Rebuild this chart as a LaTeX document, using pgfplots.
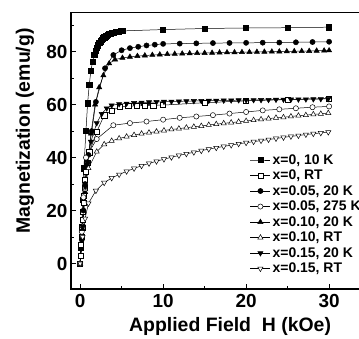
\documentclass[border=0pt]{standalone}
\usepackage{pgfplots}
\pgfplotsset{compat=1.18}
\usepackage{fontspec}
\setmainfont{Liberation Sans}
\begin{document}
\begin{tikzpicture}[x=1bp,y=1bp]
\useasboundingbox (0,0) rectangle (359,339);
\clip (0,0) rectangle (359,339);
\begin{axis}[
  at={(71bp,50bp)}, anchor=south west,
  scale only axis, width=316.2bp, height=276.4bp,
  xmin=-1.1, xmax=37, ymin=-9.6, ymax=94.7,
  axis line style={line width=1.5pt},
  tick align=inside, tick pos=left,
  major tick length=5bp, minor tick length=3bp,
  every tick/.style={black, line width=1pt},
  xtick={0,10,20,30}, minor xtick={5,15,25},
  ytick={0,20,40,60,80}, minor ytick={10,30,50,70,90},
  /pgf/number format/assume math mode=true,
  ticklabel style={font=\bfseries\fontsize{19}{21}\selectfont},
  xticklabel style={yshift=-2bp},
  label style={font=\bfseries\fontsize{19.5}{22}\selectfont},
  xlabel={Applied Field\ \ H (kOe)},
  ylabel={Magnetization (emu/g)},
  xlabel style={at={(axis description cs:0.503,-0.134)}, anchor=center},
  ylabel style={at={(axis description cs:-0.1455,0.572)}, anchor=center},
  legend style={draw=none, fill=none, at={(axis description cs:0.566,0.495)}, anchor=north west,
    font=\bfseries\fontsize{14}{15}\selectfont, row sep=0.3bp, inner sep=0pt,
    /tikz/every even column/.append style={column sep=2bp}},
  legend cell align=left,
  legend image code/.code={\draw[mark repeat=2,mark phase=2] plot coordinates {(0bp,0bp) (10bp,0bp) (20bp,0bp)};},
  every axis plot/.append style={black, line width=0.5pt},
]
\addplot[mark=square*, mark size=2.6, mark options={solid, fill=black}] coordinates {
(0,0) (0.1,6) (0.2,14) (0.3,24) (0.45,36) (0.7,50) (0.9,60.5) (1.1,67.5) (1.3,72.8) (1.5,76.2) (1.7,78.8) (1.85,80.3) (2.0,81.5) (2.15,82.4) (2.3,83.2) (2.45,83.9) (2.6,84.5) (2.75,85) (2.9,85.4) (3.05,85.8) (3.2,86.1) (3.35,86.4) (3.5,86.6) (3.65,86.8) (3.8,87.0) (3.95,87.1) (4.1,87.25) (4.25,87.35) (4.4,87.45) (4.55,87.55) (4.7,87.6) (4.85,87.7) (5.0,87.75) (5.15,87.8) (10,88.3) (15,88.7) (20,88.9) (25,89.0) (30,89.2)};
\addlegendentry{x=0, 10 K}
\addplot[mark=square*, mark size=2.6, mark options={solid, fill=white}] coordinates {
(0,0) (0.05,3) (0.12,7) (0.2,10) (0.25,13.4) (0.3,16.4) (0.35,19.5) (0.42,22.8) (0.48,25.5) (0.52,28.5) (0.6,31.5) (0.7,34.6) (0.85,38) (1.1,42) (2.0,49.7) (2.9,56) (3.8,57.7) (4.8,59.2) (5.8,59.4) (6.8,59.5) (7.8,59.6) (8.8,59.7) (10.0,59.8) (15,60.7) (20,61.4) (25,61.9) (30,62.3)};
\addlegendentry{x=0, RT}
\addplot[mark=*, mark size=2.6, mark options={solid, fill=black}] coordinates {
(0,0) (0.2,9) (0.4,20) (0.6,30) (0.8,37) (1.0,41) (1.4,50) (1.9,61) (3.0,73.7) (4.0,78.7) (5.0,80.5) (6.0,81.3) (7.0,81.8) (8.0,82.3) (9,82.6) (10,82.9) (12,83.0) (14,83.1) (16,83.2) (18,83.25) (20,83.3) (22,83.35) (24,83.4) (26,83.5) (28,83.6) (30,83.7)};
\addlegendentry{x=0.05, 20 K}
\addplot[mark=*, mark size=2.6, mark options={solid, fill=white}] coordinates {
(0,0) (0.2,12) (0.4,25) (0.7,40) (2.0,47) (4.0,52.2) (6.0,53) (8.0,53.6) (10,54.3) (12,55) (14,55.5) (16,56) (18,56.6) (20,57.2) (22,57.8) (24,58.2) (26,58.6) (28,59) (30,59.3)};
\addlegendentry{x=0.05, 275 K}
\addplot[mark=triangle*, mark size=3, mark options={solid, fill=black}] coordinates {
(0,0) (0.3,13) (0.6,27) (0.9,38) (1.3,49) (1.8,60) (2.3,66.5) (2.8,71) (3.5,75.5) (4.2,77) (5.1,77.6) (6.0,78.0) (6.9,78.3) (7.8,78.5) (8.7,78.7) (9.6,78.85) (10.5,79.0) (11.4,79.1) (12.3,79.2) (13.2,79.3) (14.1,79.4) (15,79.45) (15.9,79.5) (16.8,79.6) (17.7,79.65) (18.6,79.7) (19.5,79.75) (20.4,79.8) (21.3,79.85) (22.2,79.9) (23.1,79.95) (24,80.0) (24.9,80.05) (25.8,80.1) (26.7,80.15) (27.6,80.2) (28.5,80.3) (29.4,80.35) (30,80.4)};
\addlegendentry{x=0.10, 20 K}
\addplot[mark=triangle*, mark size=3, mark options={solid, fill=white}] coordinates {
(0,0) (0.3,14) (0.6,28) (1.0,36) (2.0,42.2) (2.9,45.0) (3.8,46.3) (4.7,47.2) (5.6,47.9) (6.5,48.5) (7.4,49.0) (8.3,49.4) (9.2,49.8) (10.1,50.2) (11.0,50.6) (11.9,50.9) (12.8,51.3) (13.7,51.6) (14.6,51.9) (15.5,52.3) (16.4,52.6) (17.3,52.9) (18.2,53.2) (19.1,53.5) (20.0,53.8) (20.9,54.1) (21.8,54.4) (22.7,54.7) (23.6,55.0) (24.5,55.2) (25.4,55.5) (26.3,55.8) (27.2,56.0) (28.1,56.3) (29.0,56.5) (29.9,56.8)};
\addlegendentry{x=0.10, RT}
\addplot[mark=triangle*, mark size=3, mark options={solid, fill=black, rotate=180}] coordinates {
(0,0) (0.3,14) (0.6,29) (0.9,38) (1.3,46) (2.0,53) (2.6,56.5) (3.2,58.6) (3.8,59.7) (4.7,60.2) (5.6,60.4) (6.5,60.6) (7.4,60.75) (8.3,60.9) (9.2,61.0) (10.1,61.1) (11,61.15) (11.9,61.2) (12.8,61.3) (13.7,61.35) (14.6,61.4) (15.5,61.45) (16.4,61.5) (17.3,61.55) (18.2,61.6) (19.1,61.65) (20.0,61.7) (20.9,61.72) (21.8,61.75) (22.7,61.8) (23.6,61.85) (24.5,61.9) (25.4,61.92) (26.3,61.95) (27.2,62.0) (28.1,62.05) (29.0,62.1) (29.9,62.15)};
\addlegendentry{x=0.15, 20 K}
\addplot[mark=triangle*, mark size=3, mark options={solid, fill=white, rotate=180}] coordinates {
(0,0) (0.3,10) (0.6,17) (1.0,22.7) (1.9,27.5) (2.9,30.5) (3.8,32.3) (4.7,33.6) (5.6,34.8) (6.5,35.9) (7.4,36.9) (8.3,37.8) (9.2,38.6) (10.1,39.4) (11,40.1) (11.9,40.8) (12.8,41.4) (13.7,42.0) (14.6,42.6) (15.5,43.2) (16.4,43.7) (17.3,44.2) (18.2,44.7) (19.1,45.2) (20.0,45.6) (20.9,46.0) (21.8,46.4) (22.7,46.8) (23.6,47.2) (24.5,47.6) (25.4,48.0) (26.3,48.3) (27.2,48.7) (28.1,49.0) (29.0,49.3) (29.9,49.6)};
\addlegendentry{x=0.15, RT}
\end{axis}
\end{tikzpicture}
\end{document}
